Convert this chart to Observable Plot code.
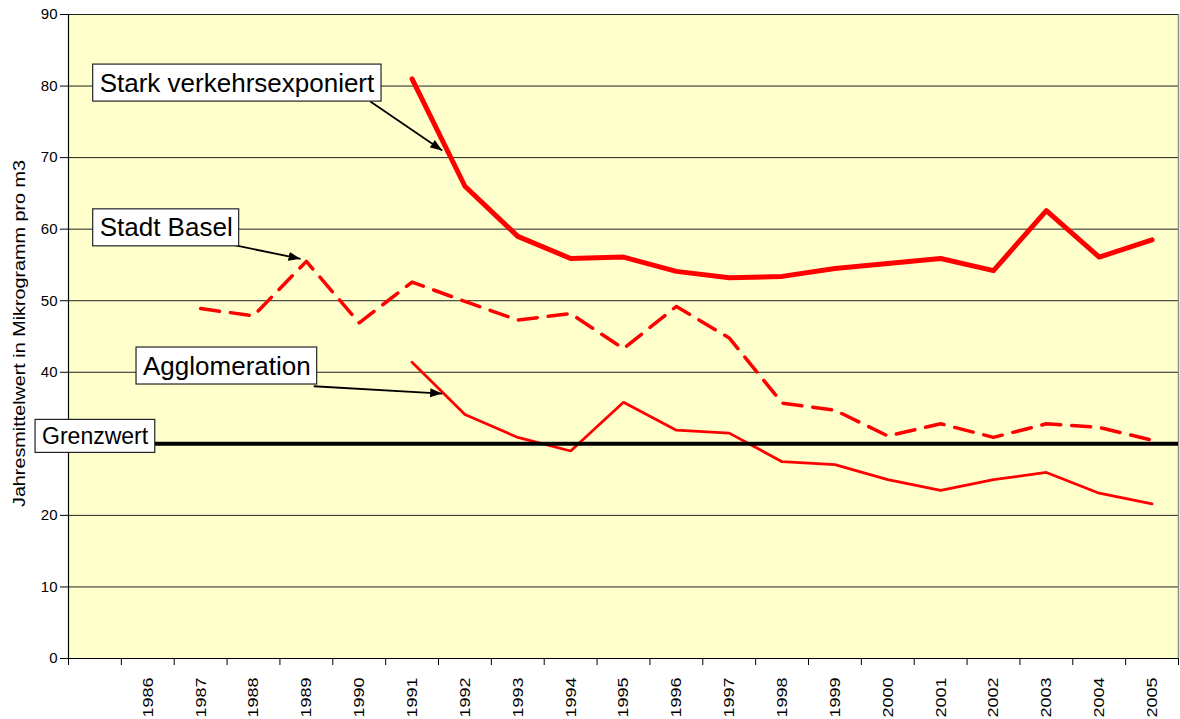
<!DOCTYPE html>
<html>
<head>
<meta charset="utf-8">
<script src="https://cdn.jsdelivr.net/npm/d3@7"></script>
<script src="https://cdn.jsdelivr.net/npm/@observablehq/plot@0.6"></script>
<style>
  html, body { margin: 0; padding: 0; background: #fff; }
</style>
</head>
<body>
<div id="chart"></div>
<script>
// ---- Data ----
const years = [1986, 1987, 1988, 1989, 1990, 1991, 1992, 1993, 1994, 1995,
               1996, 1997, 1998, 1999, 2000, 2001, 2002, 2003, 2004, 2005];
const stark = [null, null, null, null, null, 81.0, 66.0, 59.0, 55.9, 56.1,
               54.1, 53.2, 53.4, 54.5, 55.2, 55.9, 54.2, 62.6, 56.1, 58.5];
const basel = [null, 48.9, 47.9, 55.5, 46.9, 52.6, 49.9, 47.3, 48.2, 43.3,
               49.2, 44.8, 35.7, 34.7, 31.1, 32.8, 30.9, 32.8, 32.3, 30.5];
const agglo = [null, null, null, null, null, 41.4, 34.1, 30.9, 29.0, 35.8,
               31.9, 31.5, 27.5, 27.1, 25.0, 23.5, 25.0, 26.0, 23.1, 21.6];
const grenzwert = 30;
const yTicks = [0, 10, 20, 30, 40, 50, 60, 70, 80, 90];
const yTitle = "Jahresmittelwert in Mikrogramm pro m3";

// annotation labels (text left edge in years, vertical middle in values)
const annoText = ["Stark verkehrsexponiert", "Stadt Basel", "Agglomeration", "Grenzwert"];
const annoX = [1985.09, 1985.09, 1985.91, 1984.0];
const annoY = [80.39, 60.16, 40.85, 31.02];
const annoSize = [26, 26, 26, 23];

// arrows from labels to series
const arrowX1 = [1990.21, 1987.66, 1989.14];
const arrowY1 = [77.84, 57.72, 38.05];
const arrowX2 = [1991.57, 1988.89, 1991.57];
const arrowY2 = [70.99, 55.86, 37.03];

// ---- Build ----
const toRows = (vals) => years.map((year, i) => ({year, value: vals[i]})).filter(d => d.value != null);
const starkRows = toRows(stark);
const baselRows = toRows(basel);
const aggloRows = toRows(agglo);
const domainX = [years[0] - 1.5, years[years.length - 1] + 0.5];
const bounds = d3.range(domainX[0], domainX[1] + 0.01, 1);
const annoIdx = annoText.map((_, i) => i);
const arrowIdx = arrowX1.map((_, i) => i);

const svg = Plot.plot({
  width: 1180,
  height: 719,
  marginLeft: 68,
  marginRight: 2,
  marginTop: 14,
  marginBottom: 61,
  style: {fontFamily: "'Liberation Sans', Arial, sans-serif", background: "#fff", overflow: "visible", color: "#000"},
  x: {type: "linear", domain: domainX},
  y: {domain: [0, 90]},
  marks: [
    Plot.frame({fill: "#FFFFCC", stroke: null}),
    Plot.ruleY(yTicks.filter(d => d > 0), {stroke: "#222", strokeWidth: 1}),
    Plot.ruleX([domainX[1]], {stroke: "#8c8c8c", strokeWidth: 1.5}),
    // the "30" label is hidden behind the Grenzwert box in the original
    Plot.axisY({ticks: yTicks, tickSize: 8, tickPadding: 3, fontSize: 15, label: null,
                tickFormat: d => (d === grenzwert ? "" : String(d))}),
    Plot.axisX({ticks: bounds, tickSize: 7, tickFormat: () => "", label: null}),
    Plot.ruleX([domainX[0]], {stroke: "#000", strokeWidth: 1.2}),
    Plot.ruleY([0], {stroke: "#000", strokeWidth: 1.2}),
    Plot.text(years, {x: d => d, y: 0, text: d => String(d), rotate: -90, textAnchor: "end", dy: 19, fontSize: 15.5, fill: "#000"}),
    Plot.text([yTitle], {frameAnchor: "left", dx: -49, dy: -3, rotate: -90, textAnchor: "middle", fontSize: 16, fill: "#000"}),
    Plot.line(aggloRows, {x: "year", y: "value", stroke: "#FF0000", strokeWidth: 2.75}),
    Plot.line(baselRows, {x: "year", y: "value", stroke: "#FF0000", strokeWidth: 3.5, strokeDasharray: "19,11"}),
    Plot.line(starkRows, {x: "year", y: "value", stroke: "#FF0000", strokeWidth: 5}),
    Plot.ruleY([grenzwert], {x1: domainX[0], x2: domainX[1], stroke: "#000", strokeWidth: 4}),
    Plot.link(arrowIdx, {x1: i => arrowX1[i], y1: i => arrowY1[i], x2: i => arrowX2[i], y2: i => arrowY2[i], stroke: "#000", strokeWidth: 1.8}),
    Plot.text(annoIdx, {x: i => annoX[i], y: i => annoY[i], text: i => annoText[i], fontSize: i => annoSize[i], textAnchor: "start", lineAnchor: "middle", fill: "#000"})
  ]
});

document.getElementById("chart").append(svg);

// ---- Post-processing: arrowheads, label boxes, font sizes, stretched rotated text ----
const root = d3.select(svg);
const defs = root.append("defs");
defs.append("marker")
  .attr("id", "ah")
  .attr("viewBox", "-12 -5 12 10")
  .attr("refX", 0).attr("refY", 0)
  .attr("markerWidth", 12).attr("markerHeight", 10)
  .attr("markerUnits", "userSpaceOnUse")
  .attr("orient", "auto")
  .append("path").attr("d", "M0,0L-12,-4.5L-12,4.5Z").attr("fill", "#000");
root.selectAll("g[aria-label='link'] path").attr("marker-end", "url(#ah)");

root.selectAll("text").each(function () {
  const t = this.textContent;
  if (annoText.includes(t)) {
    const b = this.getBBox();
    const r = document.createElementNS("http://www.w3.org/2000/svg", "rect");
    r.setAttribute("x", b.x - 7);
    r.setAttribute("y", b.y - 3.5);
    r.setAttribute("width", b.width + 13);
    r.setAttribute("height", b.height + 7);
    const tr = this.getAttribute("transform");
    if (tr) r.setAttribute("transform", tr);
    r.setAttribute("fill", "#fff");
    r.setAttribute("stroke", "#222");
    r.setAttribute("stroke-width", "1.2");
    this.parentNode.insertBefore(r, this);
  } else if (/^\d{4}$/.test(t)) {
    this.style.fontSize = "15.5px";
    this.setAttribute("textLength", 40);
    this.setAttribute("lengthAdjust", "spacingAndGlyphs");
  } else if (/^\d{1,2}$/.test(t)) {
    this.style.fontSize = "15px";
  } else if (t === yTitle) {
    this.style.fontSize = "16px";
    this.setAttribute("textLength", 347);
    this.setAttribute("lengthAdjust", "spacingAndGlyphs");
  }
});
</script>
</body>
</html>
